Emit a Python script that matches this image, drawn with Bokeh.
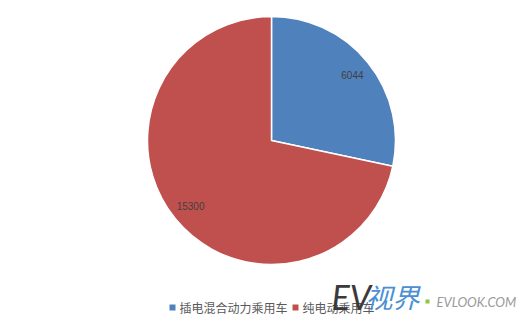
import math
from bokeh.plotting import figure
from bokeh.models import Range1d, ColumnDataSource
from bokeh.core.properties import value
from bokeh.embed import file_html
from bokeh.resources import INLINE

categories = ["插电混合动力乘用车", "纯电动乘用车"]
values = [6044, 15300]
colors = ["#4F81BD", "#C0504D"]

W, H = 522, 321
cx, cy, r = 271, H - 140, 124

p = figure(width=W, height=H, output_backend="svg", toolbar_location=None,
           x_range=Range1d(0, W), y_range=Range1d(0, H), min_border=0)
p.axis.visible = False
p.grid.visible = False
p.outline_line_color = None
p.background_fill_color = "white"
p.border_fill_color = "white"

total = sum(values)
starts, ends, lx, ly = [], [], [], []
a = math.pi / 2
for v in values:
    span = 2 * math.pi * v / total
    starts.append(a)
    ends.append(a - span)
    mid = a - span / 2
    lx.append(cx + 0.84 * r * math.cos(mid))
    ly.append(cy + 0.84 * r * math.sin(mid))
    a -= span

src = ColumnDataSource(dict(start=starts, end=ends, color=colors,
                            lx=lx, ly=ly, lab=[str(v) for v in values],
                            cat=categories))
p.wedge(x=cx, y=cy, radius=r, start_angle="start", end_angle="end",
        direction="clock", fill_color="color", line_color="white",
        line_width=1.5, source=src)
p.text(x="lx", y="ly", text="lab", source=src, text_align="center",
       text_baseline="middle", text_font=value("Liberation Sans"),
       text_font_size="10px", text_color="#404040")

# legend
leg_x = [172, 295]
leg_y = H - 307
p.scatter(x=leg_x, y=[leg_y] * 2, marker="square", size=6,
          fill_color=colors, line_color=None)
p.text(x=[x + 7 for x in leg_x], y=[leg_y] * 2, text=categories,
       text_baseline="middle", text_font=value("Noto Sans CJK SC"),
       text_font_size="12px", text_color="#595959")

# watermark
p.text(x=[331], y=[H - 296], text=["EV"], text_baseline="middle",
       text_font=value("Lato"), text_font_style="italic",
       text_font_size="34px", text_color="#3a3a3a")
p.text(x=[365], y=[H - 296], text=["视界"], text_baseline="middle",
       text_font=value("Noto Sans CJK SC"), text_font_style="italic",
       text_font_size="27px", text_color="#4A90D2")
p.scatter(x=[427], y=[H - 301], marker="square", size=4,
          fill_color="#8DC63F", line_color=None)
p.text(x=[436], y=[H - 301], text=["EVLOOK.COM"], text_baseline="middle",
       text_font=value("Lato"), text_font_style="italic",
       text_font_size="13px", text_color="#9a9a9a")

open("out.html", "w").write(file_html(p, INLINE))
